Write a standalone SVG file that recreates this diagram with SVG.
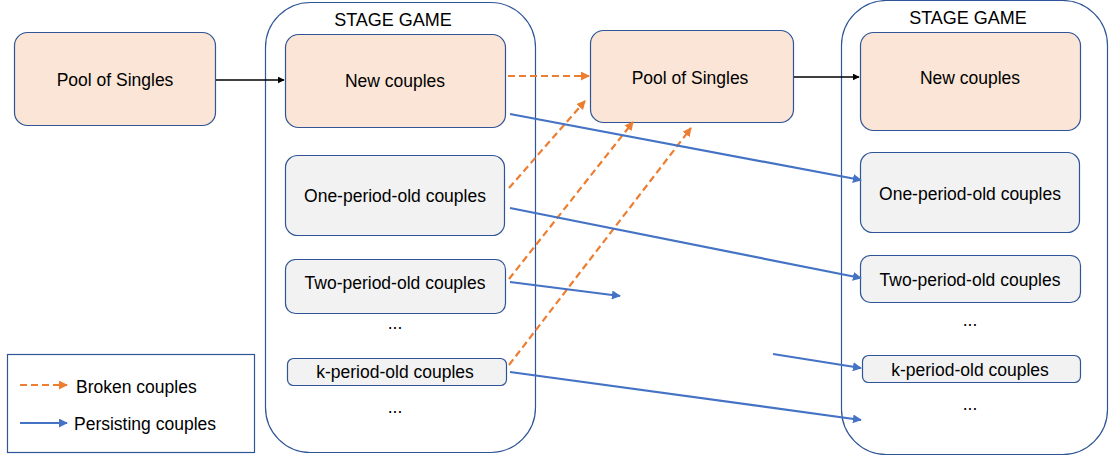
<svg xmlns="http://www.w3.org/2000/svg" width="1110" height="457" viewBox="0 0 1110 457">
<defs>
<style>
text{font-family:"Liberation Sans",Arial,sans-serif;font-size:17.5px;fill:#000;text-anchor:middle;dominant-baseline:central}
.peach{fill:#FBE5D6;stroke:#2F5597;stroke-width:1.2}
.grey{fill:#F2F2F2;stroke:#2F5597;stroke-width:1.2}
.cont{fill:none;stroke:#2F5597;stroke-width:1.2}
.blk{stroke:#000;stroke-width:1.5;fill:none}
.org{stroke:#ED7D31;stroke-width:2.2;fill:none;stroke-dasharray:7 4}
.blu{stroke:#4472C4;stroke-width:2.2;fill:none}
.title{font-size:18px}
</style>
<marker id="ab" viewBox="0 0 10 10" refX="9" refY="5" markerWidth="7" markerHeight="7" markerUnits="userSpaceOnUse" orient="auto"><path d="M0,0L10,5L0,10z" fill="#000"/></marker>
<marker id="ao" viewBox="0 0 10 10" refX="9" refY="5" markerWidth="9" markerHeight="9" markerUnits="userSpaceOnUse" orient="auto"><path d="M0,0L10,5L0,10z" fill="#ED7D31"/></marker>
<marker id="au" viewBox="0 0 10 10" refX="9" refY="5" markerWidth="9" markerHeight="9" markerUnits="userSpaceOnUse" orient="auto"><path d="M0,0L10,5L0,10z" fill="#4472C4"/></marker>
</defs>
<g id="stage1">
<rect class="cont" x="265.5" y="2.5" width="270" height="450" rx="45"/>
<text class="title" x="393" y="20">STAGE GAME</text>
</g>
<g id="stage2">
<rect class="cont" x="841.5" y="0.5" width="266" height="454" rx="45"/>
<text class="title" x="968" y="18">STAGE GAME</text>
</g>
<g id="pool1"><rect class="peach" x="14.5" y="32.5" width="201" height="93" rx="13"/><text x="115" y="80">Pool of Singles</text></g>
<g id="new1"><rect class="peach" x="285.5" y="34.5" width="220" height="93" rx="13"/><text x="395" y="81">New couples</text></g>
<g id="one1"><rect class="grey" x="285.5" y="155.5" width="219" height="80" rx="12"/><text x="395" y="196">One-period-old couples</text></g>
<g id="two1"><rect class="grey" x="285.5" y="259.5" width="220" height="54" rx="10"/><text x="395" y="283">Two-period-old couples</text></g>
<g id="dots1"><text x="395" y="323">...</text></g>
<g id="k1"><rect class="grey" x="287.5" y="358.5" width="219" height="27" rx="6"/><text x="395" y="372">k-period-old couples</text></g>
<g id="dots2"><text x="395" y="407">...</text></g>
<g id="pool2"><rect class="peach" x="590.5" y="30.5" width="203" height="92" rx="13"/><text x="690" y="78">Pool of Singles</text></g>
<g id="new2"><rect class="peach" x="860.5" y="32.5" width="220" height="98" rx="13"/><text x="970" y="78">New couples</text></g>
<g id="one2"><rect class="grey" x="860.5" y="152.5" width="219" height="80" rx="12"/><text x="970" y="194">One-period-old couples</text></g>
<g id="two2"><rect class="grey" x="860.5" y="255.5" width="220" height="47" rx="10"/><text x="970" y="280">Two-period-old couples</text></g>
<g id="dots3"><text x="970" y="320">...</text></g>
<g id="k2"><rect class="grey" x="862.5" y="355.5" width="218" height="27" rx="6"/><text x="970" y="370">k-period-old couples</text></g>
<g id="dots4"><text x="970" y="404">...</text></g>
<g id="legend">
<rect x="7.5" y="354.5" width="247" height="98" fill="#fff" stroke="#2F5597" stroke-width="1.2"/>
<line class="org" x1="20" y1="385" x2="67" y2="385" marker-end="url(#ao)"/>
<text x="76" y="387" style="text-anchor:start">Broken couples</text>
<line class="blu" x1="20" y1="423" x2="67" y2="423" marker-end="url(#au)"/>
<text x="74" y="424" style="text-anchor:start">Persisting couples</text>
</g>
<g id="connectors">
<line class="blk" x1="216" y1="80" x2="284" y2="80" marker-end="url(#ab)"/>
<line class="blk" x1="794" y1="77" x2="859" y2="77" marker-end="url(#ab)"/>
<line class="org" x1="508" y1="76" x2="589" y2="76" marker-end="url(#ao)"/>
<line class="org" x1="509" y1="188" x2="585" y2="101" marker-end="url(#ao)"/>
<line class="org" x1="509" y1="279" x2="633" y2="122" marker-end="url(#ao)"/>
<line class="org" x1="509" y1="365" x2="691" y2="128" marker-end="url(#ao)"/>
<line class="blu" x1="510" y1="114" x2="861" y2="180" marker-end="url(#au)"/>
<line class="blu" x1="510" y1="208" x2="861" y2="278" marker-end="url(#au)"/>
<line class="blu" x1="510" y1="282" x2="620" y2="296" marker-end="url(#au)"/>
<line class="blu" x1="773" y1="354" x2="861" y2="368" marker-end="url(#au)"/>
<line class="blu" x1="510" y1="372" x2="861" y2="420" marker-end="url(#au)"/>
</g>
</svg>
